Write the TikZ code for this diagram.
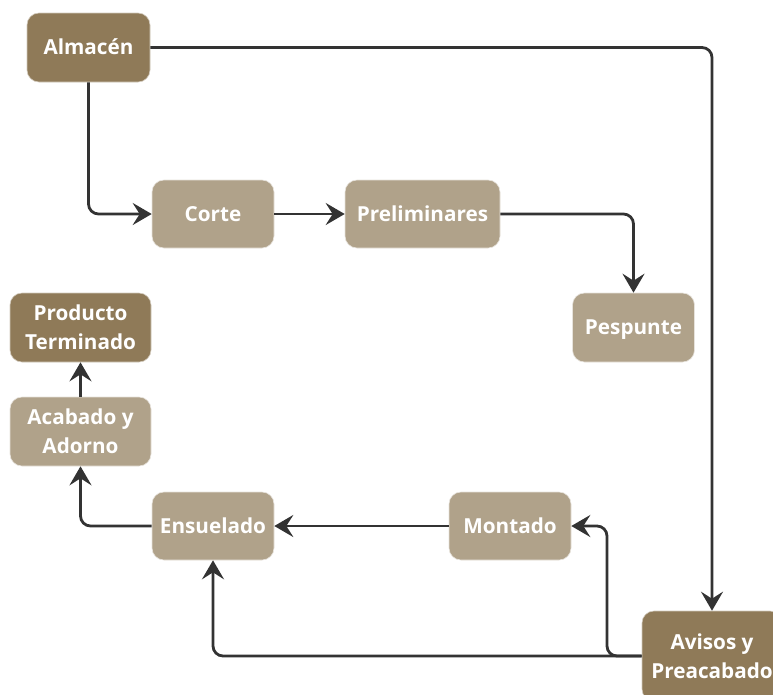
\documentclass[tikz,border=0pt]{standalone}
\usepackage{fontspec}
\setmainfont{Open Sans}
\usetikzlibrary{arrows.meta}
\definecolor{darkbox}{HTML}{8F7A58}
\definecolor{lightbox}{HTML}{B0A28A}
\definecolor{wire}{HTML}{333333}
\begin{document}
\begin{tikzpicture}[x=1pt,y=-1pt,
  box/.style={rounded corners=12pt, inner sep=0pt, align=center,
    text=white, font=\fontsize{20.7}{29}\selectfont\bfseries,
    draw=white!70!lightbox, line width=0.6pt},
  oneline/.style={text height=14.8pt, text depth=0pt},
  stage/.style={box, fill=lightbox},
  endpoint/.style={box, fill=darkbox, draw=white!60!darkbox},
  flow/.style={draw=wire, line width=2.8pt, rounded corners=10pt,
    -{Stealth[length=19pt,width=22pt,inset=7pt]}}]
\useasboundingbox (0,0) rectangle (773,694);
\clip (0,0) rectangle (773,694);
\fill[white] (0,0) rectangle (773,694);

% process stages
\node[endpoint, oneline, minimum width=123pt, minimum height=69pt] (alm)  at (88.5,47.5) {Almacén};
\node[stage, oneline, minimum width=122pt, minimum height=68pt]    (corte) at (213,214) {Corte};
\node[stage, oneline, minimum width=155pt, minimum height=68pt]    (prel) at (422.5,214) {Preliminares};
\node[stage, oneline, minimum width=122pt, minimum height=69pt]    (pesp) at (633.5,327.5) {Pespunte};
\node[endpoint, minimum width=141pt, minimum height=69pt] (prod) at (80.5,327.5) {Producto\\Terminado};
\node[stage, minimum width=141pt, minimum height=69pt]    (acab) at (80.5,431.5) {Acabado y\\Adorno};
\node[stage, oneline, minimum width=122pt, minimum height=68pt]    (ens)  at (213,526) {Ensuelado};
\node[stage, oneline, minimum width=122pt, minimum height=68pt]    (mont) at (510,526) {Montado};
\node[endpoint, minimum width=140pt, minimum height=90pt] (avis) at (712,656) {Avisos y\\Preacabado};

\coordinate (bend) at (607,526);

% connectors
\draw[flow] (alm.south) |- (corte.west);
\draw[flow] (alm.east) -| (avis.north);
\draw[flow] (corte.east) -- (prel.west);
\draw[flow] (prel.east) -| (pesp.north);
\draw[flow] (avis.west) -| (bend) -- (mont.east);
\draw[flow] (avis.west) -| (ens.south);
\draw[flow] (mont.west) -- (ens.east);
\draw[flow] (ens.west) -| (acab.south);
\draw[flow] (acab.north) -- (prod.south);
\end{tikzpicture}
\end{document}
